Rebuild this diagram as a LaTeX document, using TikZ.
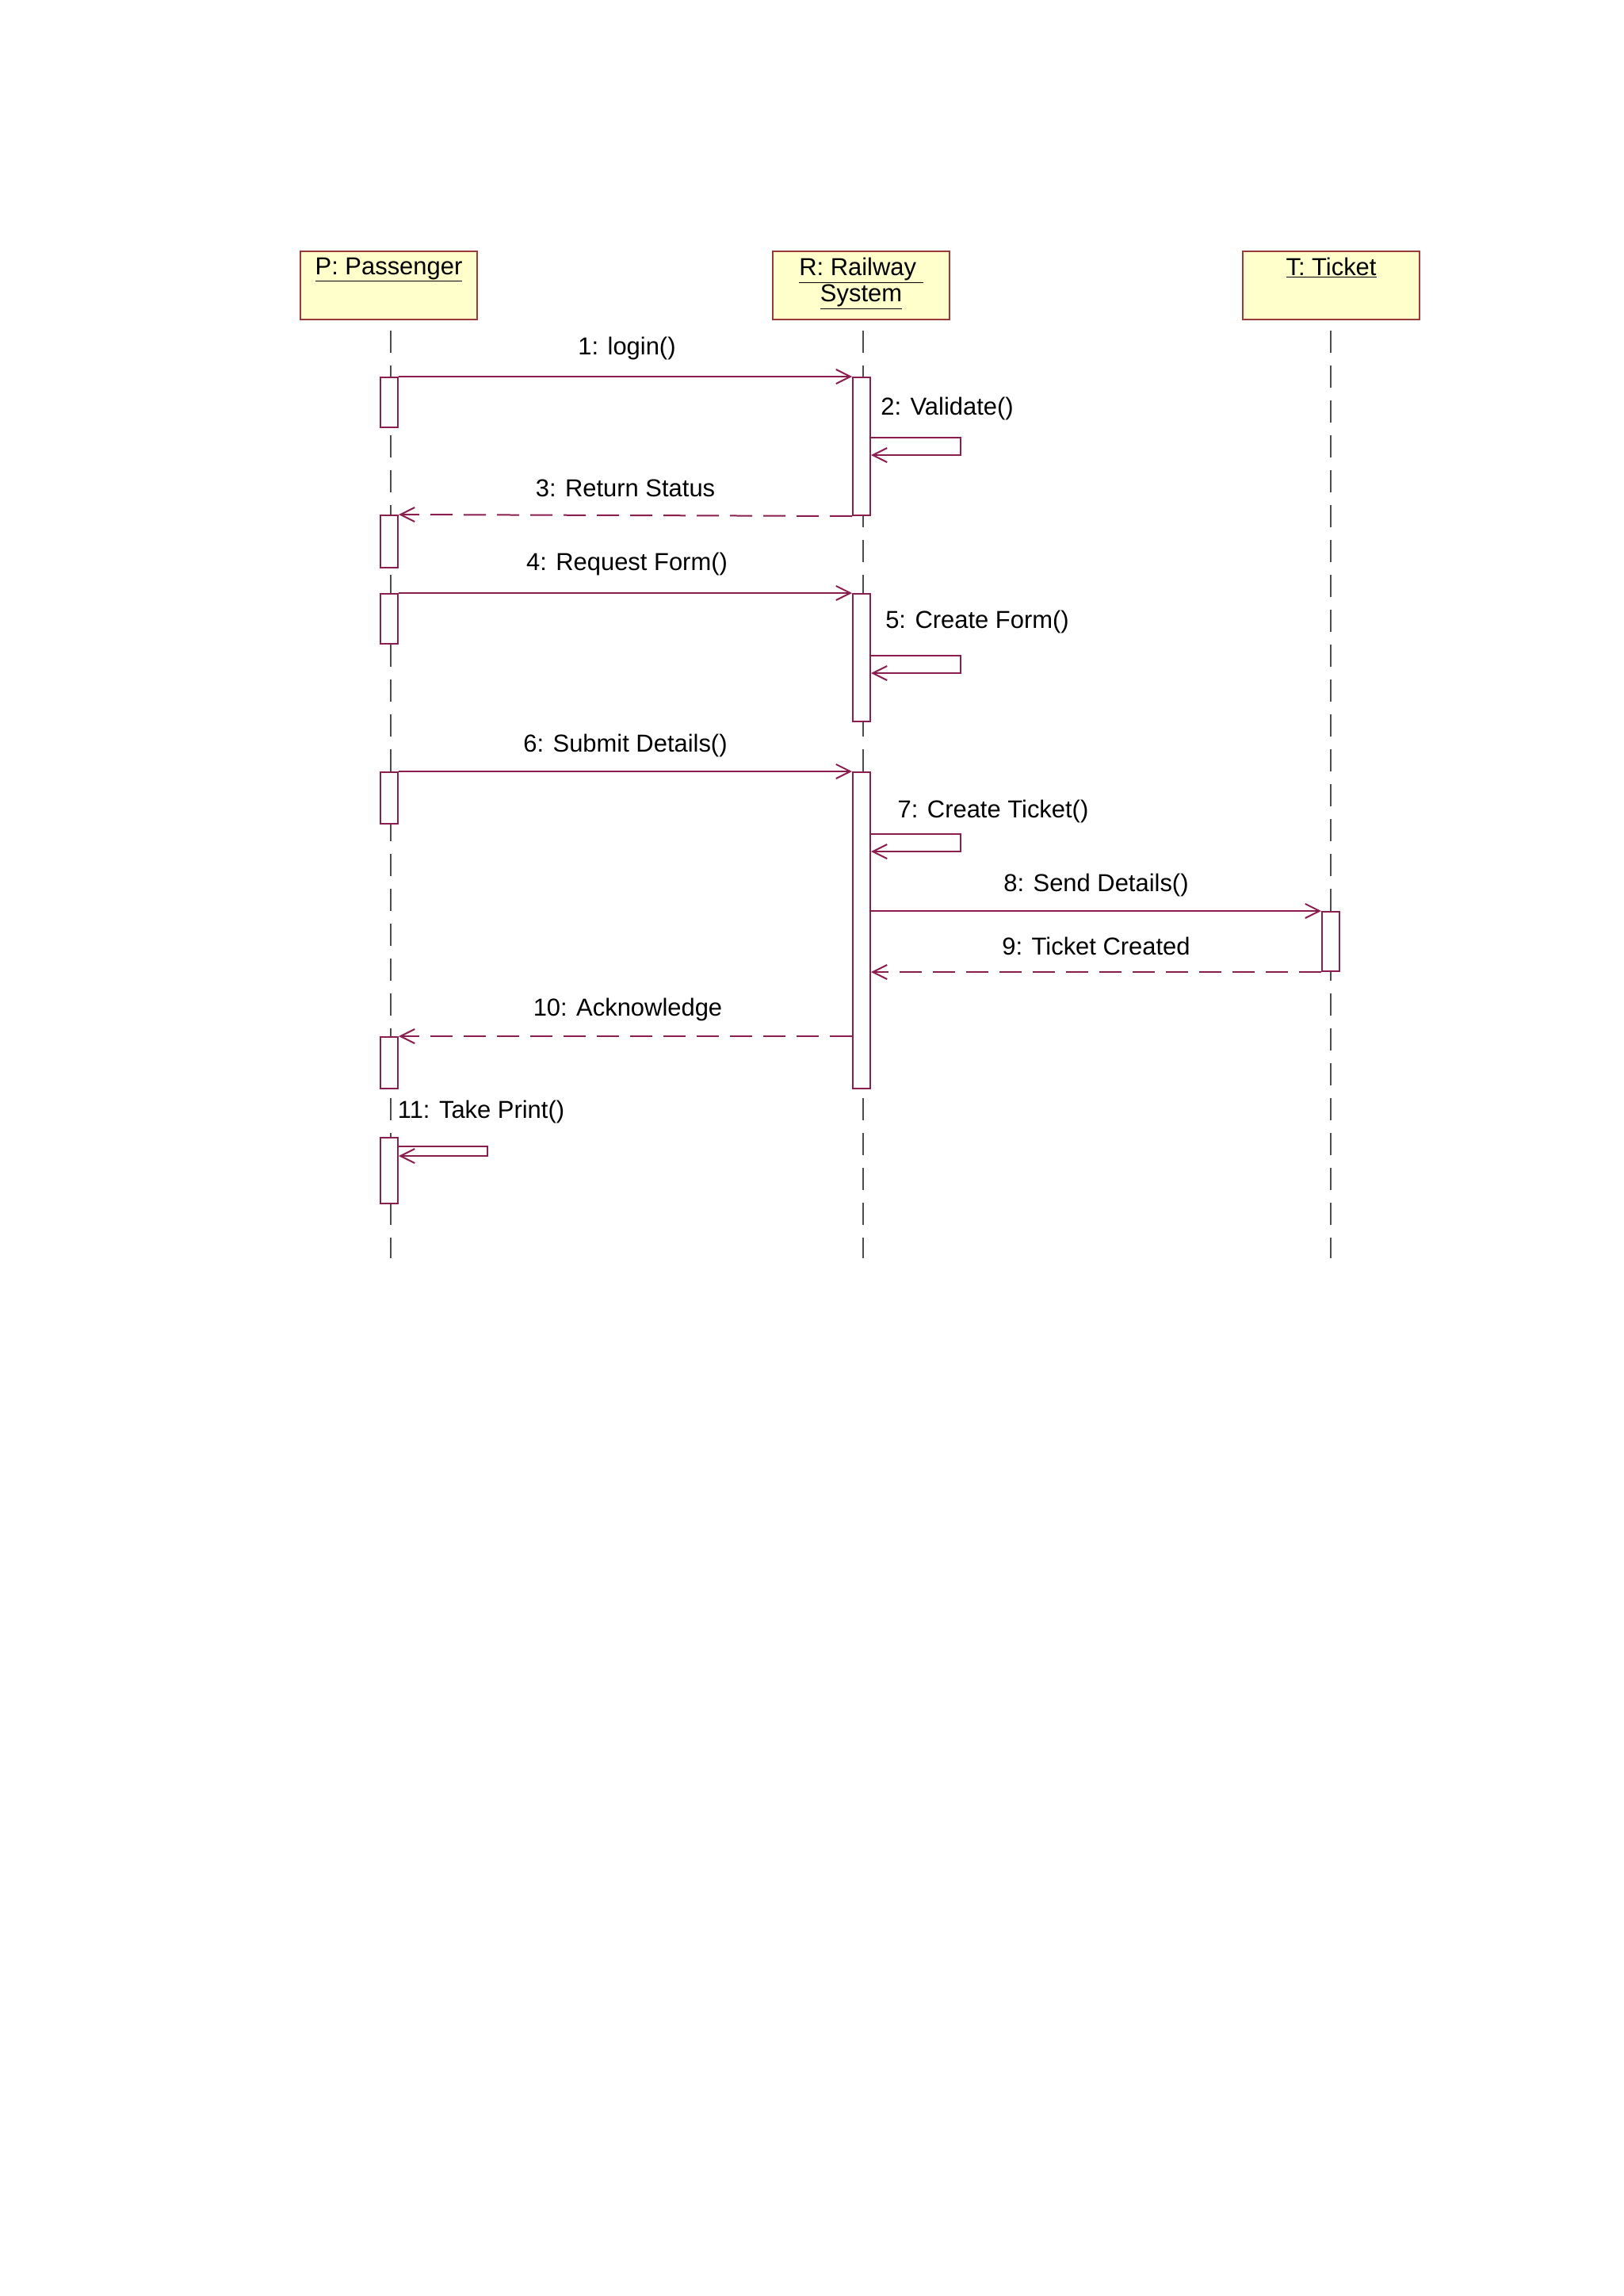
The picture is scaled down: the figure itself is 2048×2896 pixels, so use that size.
\documentclass[tikz,border=0pt]{standalone}
\usepackage{fontspec}
\setmainfont{Liberation Sans}
\usetikzlibrary{arrows.meta}
\definecolor{ln}{HTML}{8A1E4E}
\definecolor{bx}{HTML}{FFFFCC}
\definecolor{bxb}{HTML}{9A3A3A}
\begin{document}
\begin{tikzpicture}[x=0.25mm,y=-0.25mm,
  font=\fontsize{22}{27}\selectfont,
  obj/.style={draw=bxb,fill=bx,line width=0.5mm,minimum width=223*0.25mm,minimum height=86*0.25mm,inner sep=0,align=center},
  act/.style={draw=ln,fill=white,line width=0.5mm,minimum width=22*0.25mm,inner sep=0},
  life/.style={draw=black!70,line width=0.45mm,dash pattern=on 7mm off 4mm},
  msg/.style={draw=ln,line width=0.5mm,-{Straight Barb[length=4.5mm,width=4.5mm]}},
  ret/.style={msg,dash pattern=on 7mm off 3.5mm},
  lab/.style={inner sep=0}]
\useasboundingbox[fill=white] (0,0) rectangle (2048,2896);
% objects
\node[obj,anchor=north west] (P) at (378,316) {\vphantom{Sy}\\[-1.6ex]};
\node[anchor=north,inner sep=0] (Pt) at ([yshift=-2.2mm]P.north) {\underline{P: Passenger}};
\node[obj,anchor=north west] (R) at (974,316) {};
\node[anchor=north,inner sep=0,align=center] (Rt) at ([yshift=-2.2mm]R.north) {\underline{R: Railway\ }\\[-0.3ex]\underline{System}};
\node[obj,anchor=north west] (T) at (1567,316) {};
\node[anchor=north,inner sep=0] (Tt) at ([yshift=-2.2mm]T.north) {\underline{T: Ticket}};
% lifelines
\coordinate (pe) at (493,1587); \coordinate (re) at (1089,1587); \coordinate (te) at (1679,1587);
\draw[life] (493,417) -- (pe);
\draw[life] (1089,417) -- (re);
\draw[life] (1679,417) -- (te);
% activations
\node[act,minimum height=63*0.25mm] (pa1) at (491,507.5) {};
\node[act,minimum height=66*0.25mm] (pa2) at (491,683) {};
\node[act,minimum height=63*0.25mm] (pa3) at (491,780.5) {};
\node[act,minimum height=65*0.25mm] (pa4) at (491,1006.5) {};
\node[act,minimum height=65*0.25mm] (pa5) at (491,1340.5) {};
\node[act,minimum height=83*0.25mm] (pa6) at (491,1476.5) {};
\node[act,minimum height=174*0.25mm] (ra1) at (1087,563) {};
\node[act,minimum height=161*0.25mm] (ra2) at (1087,829.5) {};
\node[act,minimum height=399*0.25mm] (ra3) at (1087,1173.5) {};
\node[act,minimum height=75*0.25mm] (ta1) at (1679,1187.5) {};
% messages
\draw[msg] (pa1.north east) -- (ra1.north west);
\node[lab] at (791,439) {1: login()};
\draw[msg] (ra1.east |- 0,552) -- (1212,552) -- (1212,574) -- (ra1.east |- 0,574);
\node[lab] at (1195,515) {2: Validate()};
\draw[ret] (ra1.south west) -- (pa2.north east);
\node[lab] at (789,616) {3: Return Status};
\draw[msg] (pa3.north east) -- (ra2.north west);
\node[lab] at (791,711) {4: Request Form()};
\draw[msg] (ra2.east |- 0,827) -- (1212,827) -- (1212,849) -- (ra2.east |- 0,849);
\node[lab] at (1233,784) {5: Create Form()};
\draw[msg] (pa4.north east) -- (ra3.north west);
\node[lab] at (789,940) {6: Submit Details()};
\draw[msg] (ra3.east |- 0,1052) -- (1212,1052) -- (1212,1074) -- (ra3.east |- 0,1074);
\node[lab] at (1253,1023) {7: Create Ticket()};
\draw[msg] (ra3.east |- ta1.north) -- (ta1.north west);
\node[lab] at (1383,1116) {8: Send Details()};
\draw[ret] (ta1.south west) -- (ra3.east |- ta1.south);
\node[lab] at (1383,1193) {9: Ticket Created};
\draw[ret] (ra3.west |- pa5.north) -- (pa5.north east);
\node[lab] at (792,1273) {10: Acknowledge};
\draw[msg] (pa6.east |- 0,1446) -- (615,1446) -- (615,1458) -- (pa6.east |- 0,1458);
\node[lab] at (607,1402) {11: Take Print()};
\end{tikzpicture}
\end{document}
